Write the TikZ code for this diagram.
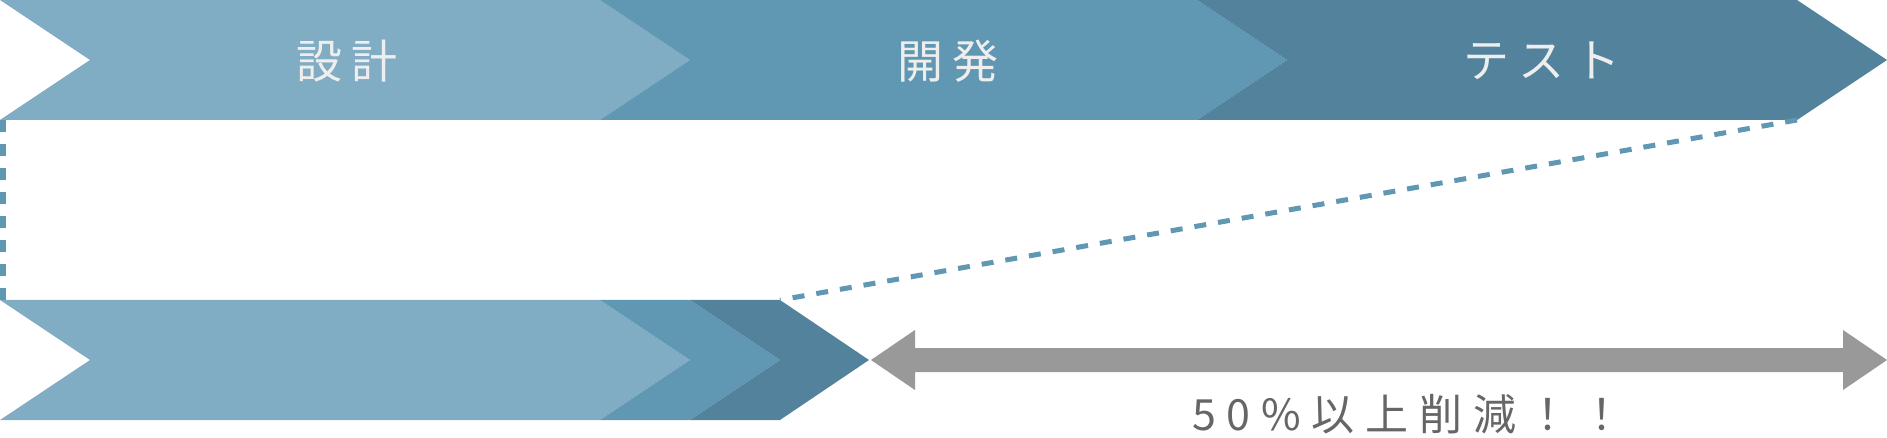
\documentclass[tikz,border=0pt]{standalone}
\usepackage{fontspec}
\newfontfamily\jpfont[LetterSpace=20]{Noto Sans CJK JP}
\newfontfamily\jpfontb[LetterSpace=25]{Noto Sans CJK JP}
\definecolor{clight}{HTML}{80ACC4}
\definecolor{cmid}{HTML}{6097B3}
\definecolor{cdark}{HTML}{52829C}
\definecolor{cgray}{HTML}{999999}
\definecolor{ctext}{HTML}{EEEEEE}
\definecolor{cbottom}{HTML}{666666}
\tikzset{
  phase/.style={font=\jpfont\fontsize{46}{50}\selectfont, text=ctext, inner sep=0pt},
  guide/.style={draw=cmid, dash pattern=on 12pt off 12pt},
  bigarrow/.style={fill=cgray},
  note/.style={font=\jpfontb\fontsize{43}{48}\selectfont, text=cbottom, inner sep=0pt}
}
\begin{document}
\begin{tikzpicture}[x=1pt,y=-1pt]
\useasboundingbox (0,0) rectangle (1887,438);
% top band
\fill[clight] (0,0) -- (600,0) -- (690,60) -- (600,120) -- (0,120) -- (90,60) -- cycle;
\fill[cmid] (600,0) -- (1197,0) -- (1287,60) -- (1197,120) -- (600,120) -- (690,60) -- cycle;
\fill[cdark] (1197,0) -- (1797,0) -- (1887,60) -- (1797,120) -- (1197,120) -- (1287,60) -- cycle;
% bottom band
\fill[clight] (0,300) -- (600,300) -- (690,360) -- (600,420) -- (0,420) -- (90,360) -- cycle;
\fill[cmid] (600,300) -- (690,300) -- (780,360) -- (690,420) -- (600,420) -- (690,360) -- cycle;
\fill[cdark] (690,300) -- (780,300) -- (869,360) -- (780,420) -- (690,420) -- (780,360) -- cycle;
% named corners
\coordinate (topL) at (3,120);
\coordinate (botL) at (3,300);
\coordinate (topR) at (1797,120);
\coordinate (botR) at (780,300);
\coordinate (aL) at (871,360);
\coordinate (aR) at (1887,360);
% guides
\draw[guide, line width=6pt] (topL) -- (botL);
\draw[guide, line width=5pt] (topR) -- (botR);
% double arrow
\fill[bigarrow] (aL) -- (915,330) -- (915,348) -- (1843,348) -- (1843,330) -- (aR)
  -- (1843,390) -- (1843,372) -- (915,372) -- (915,390) -- cycle;
% labels
\node[phase] (p1) at (347,61) {設計};
\node[phase] (p2) at (948,61) {開発};
\node[phase] (p3) at (1542,61) {テスト};
\node[note] (n1) at (1408,414) {50\%以上削減！！};
\end{tikzpicture}
\end{document}
